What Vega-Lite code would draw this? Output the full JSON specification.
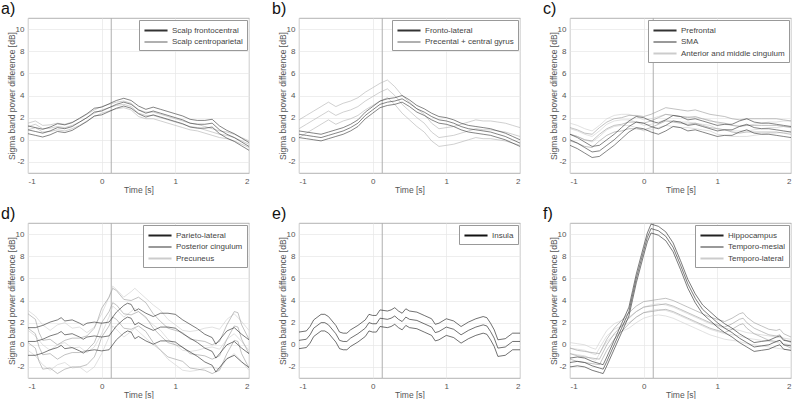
{
"$schema": "https://vega.github.io/schema/vega-lite/v6.json",
"padding": {"left": 0, "top": 0, "right": 0, "bottom": 0},
"bounds": "flush",
"spacing": 50,
"columns": 3,
"resolve": {"scale": {"color": "independent", "strokeWidth": "independent"}, "legend": {"color": "independent"}},
"config": {
 "font": "Liberation Sans",
 "view": {"stroke": "#a0a0a0", "strokeWidth": 0.8},
 "axis": {"labelFontSize": 8, "labelColor": "#555", "titleFontSize": 8.5, "titleColor": "#555", "titleFontWeight": "normal", "gridColor": "#e6e6e6", "gridWidth": 0.7, "domain": false, "ticks": false, "labelOverlap": false, "labelExpr": "'' + datum.value"},
 "axisX": {"labelPadding": 4, "titlePadding": 0},
 "axisY": {"labelPadding": 4, "titleX": -12},
 "legend": {"orient": "top-right", "offset": 2, "strokeColor": "#999", "fillColor": "white", "padding": 4, "labelFontSize": 8, "labelColor": "#444", "symbolType": "M-2.2,0H2.2", "symbolStrokeWidth": 2, "symbolSize": 110, "symbolOffset": 6.5, "rowPadding": 0.5, "labelOffset": 9.5},
 "title": {"fontSize": 16, "fontWeight": "normal", "anchor": "start", "frame": "group", "dx": -27, "offset": 1, "color": "#111"}
},
"datasets": {
 "a": [
  {"s":"Scalp centroparietal","t":-1,"m":1.2,"lo":0.9,"hi":1.5},{"s":"Scalp centroparietal","t":-0.9,"m":1.4,"lo":1.1,"hi":1.7},{"s":"Scalp centroparietal","t":-0.8,"m":1.0,"lo":0.7,"hi":1.3},{"s":"Scalp centroparietal","t":-0.7,"m":1.05,"lo":0.75,"hi":1.35},{"s":"Scalp centroparietal","t":-0.6,"m":1.2,"lo":0.9,"hi":1.5},{"s":"Scalp centroparietal","t":-0.5,"m":1.1,"lo":0.8,"hi":1.4},{"s":"Scalp centroparietal","t":-0.4,"m":1.3,"lo":1.0,"hi":1.6},{"s":"Scalp centroparietal","t":-0.3,"m":1.6,"lo":1.3,"hi":1.9},{"s":"Scalp centroparietal","t":-0.2,"m":2.0,"lo":1.7,"hi":2.3},{"s":"Scalp centroparietal","t":-0.1,"m":2.4,"lo":2.1,"hi":2.7},{"s":"Scalp centroparietal","t":0,"m":2.7,"lo":2.4,"hi":3.0},{"s":"Scalp centroparietal","t":0.1,"m":2.9,"lo":2.6,"hi":3.2},{"s":"Scalp centroparietal","t":0.2,"m":3.1,"lo":2.8,"hi":3.4},{"s":"Scalp centroparietal","t":0.3,"m":3.2,"lo":2.9,"hi":3.5},{"s":"Scalp centroparietal","t":0.4,"m":3.0,"lo":2.7,"hi":3.3},{"s":"Scalp centroparietal","t":0.5,"m":2.4,"lo":2.1,"hi":2.7},{"s":"Scalp centroparietal","t":0.6,"m":2.2,"lo":1.9,"hi":2.5},{"s":"Scalp centroparietal","t":0.7,"m":2.2,"lo":1.9,"hi":2.5},{"s":"Scalp centroparietal","t":0.8,"m":2.0,"lo":1.7,"hi":2.3},{"s":"Scalp centroparietal","t":0.9,"m":1.8,"lo":1.5,"hi":2.1},{"s":"Scalp centroparietal","t":1.0,"m":1.6,"lo":1.3,"hi":1.9},{"s":"Scalp centroparietal","t":1.1,"m":1.4,"lo":1.1,"hi":1.7},{"s":"Scalp centroparietal","t":1.2,"m":1.2,"lo":0.9,"hi":1.5},{"s":"Scalp centroparietal","t":1.3,"m":1.1,"lo":0.8,"hi":1.4},{"s":"Scalp centroparietal","t":1.4,"m":0.9,"lo":0.6,"hi":1.2},{"s":"Scalp centroparietal","t":1.5,"m":0.7,"lo":0.4,"hi":1.0},{"s":"Scalp centroparietal","t":1.6,"m":0.5,"lo":0.2,"hi":0.8},{"s":"Scalp centroparietal","t":1.7,"m":0.4,"lo":0.1,"hi":0.7},{"s":"Scalp centroparietal","t":1.8,"m":0.2,"lo":-0.1,"hi":0.5},{"s":"Scalp centroparietal","t":1.9,"m":-0.1,"lo":-0.4,"hi":0.2},{"s":"Scalp centroparietal","t":2.0,"m":-0.4,"lo":-0.7,"hi":-0.1},
  {"s":"Scalp frontocentral","t":-1,"m":0.9,"lo":0.55,"hi":1.25},{"s":"Scalp frontocentral","t":-0.9,"m":0.75,"lo":0.4,"hi":1.1},{"s":"Scalp frontocentral","t":-0.8,"m":0.6,"lo":0.25,"hi":0.95},{"s":"Scalp frontocentral","t":-0.7,"m":0.8,"lo":0.45,"hi":1.15},{"s":"Scalp frontocentral","t":-0.6,"m":1.1,"lo":0.75,"hi":1.45},{"s":"Scalp frontocentral","t":-0.5,"m":1.0,"lo":0.65,"hi":1.35},{"s":"Scalp frontocentral","t":-0.4,"m":1.2,"lo":0.85,"hi":1.55},{"s":"Scalp frontocentral","t":-0.3,"m":1.6,"lo":1.25,"hi":1.95},{"s":"Scalp frontocentral","t":-0.2,"m":2.0,"lo":1.65,"hi":2.35},{"s":"Scalp frontocentral","t":-0.1,"m":2.5,"lo":2.15,"hi":2.85},{"s":"Scalp frontocentral","t":0,"m":2.6,"lo":2.25,"hi":2.95},{"s":"Scalp frontocentral","t":0.1,"m":2.9,"lo":2.55,"hi":3.25},{"s":"Scalp frontocentral","t":0.2,"m":3.2,"lo":2.85,"hi":3.55},{"s":"Scalp frontocentral","t":0.3,"m":3.4,"lo":3.05,"hi":3.75},{"s":"Scalp frontocentral","t":0.4,"m":3.2,"lo":2.85,"hi":3.55},{"s":"Scalp frontocentral","t":0.5,"m":2.7,"lo":2.35,"hi":3.05},{"s":"Scalp frontocentral","t":0.6,"m":2.4,"lo":2.05,"hi":2.75},{"s":"Scalp frontocentral","t":0.7,"m":2.6,"lo":2.25,"hi":2.95},{"s":"Scalp frontocentral","t":0.8,"m":2.4,"lo":2.05,"hi":2.75},{"s":"Scalp frontocentral","t":0.9,"m":2.2,"lo":1.85,"hi":2.55},{"s":"Scalp frontocentral","t":1.0,"m":2.0,"lo":1.65,"hi":2.35},{"s":"Scalp frontocentral","t":1.1,"m":1.8,"lo":1.45,"hi":2.15},{"s":"Scalp frontocentral","t":1.2,"m":1.5,"lo":1.15,"hi":1.85},{"s":"Scalp frontocentral","t":1.3,"m":1.4,"lo":1.05,"hi":1.75},{"s":"Scalp frontocentral","t":1.4,"m":1.4,"lo":1.05,"hi":1.75},{"s":"Scalp frontocentral","t":1.5,"m":1.5,"lo":1.15,"hi":1.85},{"s":"Scalp frontocentral","t":1.6,"m":0.9,"lo":0.55,"hi":1.25},{"s":"Scalp frontocentral","t":1.7,"m":0.5,"lo":0.15,"hi":0.85},{"s":"Scalp frontocentral","t":1.8,"m":0.2,"lo":-0.15,"hi":0.55},{"s":"Scalp frontocentral","t":1.9,"m":-0.2,"lo":-0.55,"hi":0.15},{"s":"Scalp frontocentral","t":2.0,"m":-0.6,"lo":-0.95,"hi":-0.25}
 ],
 "b": [
  {"s":"Precental + central gyrus","t":-1,"m":1.0,"lo":0.2,"hi":1.8},{"s":"Precental + central gyrus","t":-0.9,"m":1.4,"lo":0.6,"hi":2.2},{"s":"Precental + central gyrus","t":-0.8,"m":1.8,"lo":1.0,"hi":2.6},{"s":"Precental + central gyrus","t":-0.7,"m":2.2,"lo":1.4,"hi":3.0},{"s":"Precental + central gyrus","t":-0.6,"m":2.6,"lo":1.8,"hi":3.4},{"s":"Precental + central gyrus","t":-0.5,"m":2.2,"lo":1.4,"hi":3.0},{"s":"Precental + central gyrus","t":-0.4,"m":2.5,"lo":1.7,"hi":3.3},{"s":"Precental + central gyrus","t":-0.3,"m":2.7,"lo":1.9,"hi":3.5},{"s":"Precental + central gyrus","t":-0.2,"m":3.0,"lo":2.2,"hi":3.8},{"s":"Precental + central gyrus","t":-0.1,"m":3.5,"lo":2.7,"hi":4.3},{"s":"Precental + central gyrus","t":0,"m":3.9,"lo":3.1,"hi":4.7},{"s":"Precental + central gyrus","t":0.1,"m":4.3,"lo":3.5,"hi":5.1},{"s":"Precental + central gyrus","t":0.2,"m":4.6,"lo":3.8,"hi":5.4},{"s":"Precental + central gyrus","t":0.3,"m":4.0,"lo":3.2,"hi":4.8},{"s":"Precental + central gyrus","t":0.4,"m":3.2,"lo":2.4,"hi":4.0},{"s":"Precental + central gyrus","t":0.5,"m":2.6,"lo":1.8,"hi":3.4},{"s":"Precental + central gyrus","t":0.6,"m":2.0,"lo":1.2,"hi":2.8},{"s":"Precental + central gyrus","t":0.7,"m":1.5,"lo":0.7,"hi":2.3},{"s":"Precental + central gyrus","t":0.8,"m":0.7,"lo":-0.1,"hi":1.5},{"s":"Precental + central gyrus","t":0.9,"m":0.2,"lo":-0.6,"hi":1.0},{"s":"Precental + central gyrus","t":1.0,"m":0.3,"lo":-0.5,"hi":1.1},{"s":"Precental + central gyrus","t":1.1,"m":0.4,"lo":-0.4,"hi":1.2},{"s":"Precental + central gyrus","t":1.2,"m":0.6,"lo":-0.2,"hi":1.4},{"s":"Precental + central gyrus","t":1.3,"m":0.8,"lo":0.0,"hi":1.6},{"s":"Precental + central gyrus","t":1.4,"m":1.0,"lo":0.2,"hi":1.8},{"s":"Precental + central gyrus","t":1.5,"m":0.9,"lo":0.1,"hi":1.7},{"s":"Precental + central gyrus","t":1.6,"m":0.9,"lo":0.1,"hi":1.7},{"s":"Precental + central gyrus","t":1.7,"m":0.8,"lo":0.0,"hi":1.6},{"s":"Precental + central gyrus","t":1.8,"m":0.7,"lo":-0.1,"hi":1.5},{"s":"Precental + central gyrus","t":1.9,"m":0.5,"lo":-0.3,"hi":1.3},{"s":"Precental + central gyrus","t":2.0,"m":0.3,"lo":-0.5,"hi":1.1},
  {"s":"Fronto-lateral","t":-1,"m":0.5,"lo":0.2,"hi":0.8},{"s":"Fronto-lateral","t":-0.9,"m":0.4,"lo":0.1,"hi":0.7},{"s":"Fronto-lateral","t":-0.8,"m":0.3,"lo":0.0,"hi":0.6},{"s":"Fronto-lateral","t":-0.7,"m":0.2,"lo":-0.1,"hi":0.5},{"s":"Fronto-lateral","t":-0.6,"m":0.4,"lo":0.1,"hi":0.7},{"s":"Fronto-lateral","t":-0.5,"m":0.6,"lo":0.3,"hi":0.9},{"s":"Fronto-lateral","t":-0.4,"m":0.8,"lo":0.5,"hi":1.1},{"s":"Fronto-lateral","t":-0.3,"m":1.1,"lo":0.8,"hi":1.4},{"s":"Fronto-lateral","t":-0.2,"m":1.5,"lo":1.2,"hi":1.8},{"s":"Fronto-lateral","t":-0.1,"m":2.2,"lo":1.9,"hi":2.5},{"s":"Fronto-lateral","t":0,"m":2.7,"lo":2.4,"hi":3.0},{"s":"Fronto-lateral","t":0.1,"m":3.2,"lo":2.9,"hi":3.5},{"s":"Fronto-lateral","t":0.2,"m":3.4,"lo":3.1,"hi":3.7},{"s":"Fronto-lateral","t":0.3,"m":3.5,"lo":3.2,"hi":3.8},{"s":"Fronto-lateral","t":0.4,"m":3.7,"lo":3.4,"hi":4.0},{"s":"Fronto-lateral","t":0.5,"m":3.3,"lo":3.0,"hi":3.6},{"s":"Fronto-lateral","t":0.6,"m":2.8,"lo":2.5,"hi":3.1},{"s":"Fronto-lateral","t":0.7,"m":2.5,"lo":2.2,"hi":2.8},{"s":"Fronto-lateral","t":0.8,"m":2.1,"lo":1.8,"hi":2.4},{"s":"Fronto-lateral","t":0.9,"m":1.8,"lo":1.5,"hi":2.1},{"s":"Fronto-lateral","t":1.0,"m":1.7,"lo":1.4,"hi":2.0},{"s":"Fronto-lateral","t":1.1,"m":1.5,"lo":1.2,"hi":1.8},{"s":"Fronto-lateral","t":1.2,"m":1.2,"lo":0.9,"hi":1.5},{"s":"Fronto-lateral","t":1.3,"m":1.0,"lo":0.7,"hi":1.3},{"s":"Fronto-lateral","t":1.4,"m":0.9,"lo":0.6,"hi":1.2},{"s":"Fronto-lateral","t":1.5,"m":0.8,"lo":0.5,"hi":1.1},{"s":"Fronto-lateral","t":1.6,"m":0.7,"lo":0.4,"hi":1.0},{"s":"Fronto-lateral","t":1.7,"m":0.5,"lo":0.2,"hi":0.8},{"s":"Fronto-lateral","t":1.8,"m":0.3,"lo":0.0,"hi":0.6},{"s":"Fronto-lateral","t":1.9,"m":0.0,"lo":-0.3,"hi":0.3},{"s":"Fronto-lateral","t":2.0,"m":-0.3,"lo":-0.6,"hi":0.0}
 ],
 "c": [
  {"s":"Anterior and middle cingulum","t":-1,"m":1.0,"lo":0.5,"hi":1.5},{"s":"Anterior and middle cingulum","t":-0.9,"m":0.8,"lo":0.3,"hi":1.3},{"s":"Anterior and middle cingulum","t":-0.8,"m":0.5,"lo":0.0,"hi":1.0},{"s":"Anterior and middle cingulum","t":-0.7,"m":0.3,"lo":-0.2,"hi":0.8},{"s":"Anterior and middle cingulum","t":-0.6,"m":0.8,"lo":0.3,"hi":1.3},{"s":"Anterior and middle cingulum","t":-0.5,"m":1.4,"lo":0.9,"hi":1.9},{"s":"Anterior and middle cingulum","t":-0.4,"m":1.7,"lo":1.2,"hi":2.2},{"s":"Anterior and middle cingulum","t":-0.3,"m":1.8,"lo":1.3,"hi":2.3},{"s":"Anterior and middle cingulum","t":-0.2,"m":1.8,"lo":1.3,"hi":2.3},{"s":"Anterior and middle cingulum","t":-0.1,"m":1.6,"lo":1.1,"hi":2.1},{"s":"Anterior and middle cingulum","t":0,"m":1.3,"lo":0.8,"hi":1.8},{"s":"Anterior and middle cingulum","t":0.1,"m":1.4,"lo":0.9,"hi":1.9},{"s":"Anterior and middle cingulum","t":0.2,"m":1.6,"lo":1.1,"hi":2.1},{"s":"Anterior and middle cingulum","t":0.3,"m":1.8,"lo":1.3,"hi":2.3},{"s":"Anterior and middle cingulum","t":0.4,"m":1.7,"lo":1.2,"hi":2.2},{"s":"Anterior and middle cingulum","t":0.5,"m":1.6,"lo":1.1,"hi":2.1},{"s":"Anterior and middle cingulum","t":0.6,"m":1.6,"lo":1.1,"hi":2.1},{"s":"Anterior and middle cingulum","t":0.7,"m":1.5,"lo":1.0,"hi":2.0},{"s":"Anterior and middle cingulum","t":0.8,"m":1.4,"lo":0.9,"hi":1.9},{"s":"Anterior and middle cingulum","t":0.9,"m":1.3,"lo":0.8,"hi":1.8},{"s":"Anterior and middle cingulum","t":1.0,"m":1.0,"lo":0.5,"hi":1.5},{"s":"Anterior and middle cingulum","t":1.1,"m":0.9,"lo":0.4,"hi":1.4},{"s":"Anterior and middle cingulum","t":1.2,"m":0.8,"lo":0.3,"hi":1.3},{"s":"Anterior and middle cingulum","t":1.3,"m":0.8,"lo":0.3,"hi":1.3},{"s":"Anterior and middle cingulum","t":1.4,"m":0.8,"lo":0.3,"hi":1.3},{"s":"Anterior and middle cingulum","t":1.5,"m":0.9,"lo":0.4,"hi":1.4},{"s":"Anterior and middle cingulum","t":1.6,"m":1.0,"lo":0.5,"hi":1.5},{"s":"Anterior and middle cingulum","t":1.7,"m":1.1,"lo":0.6,"hi":1.6},{"s":"Anterior and middle cingulum","t":1.8,"m":1.1,"lo":0.6,"hi":1.6},{"s":"Anterior and middle cingulum","t":1.9,"m":1.2,"lo":0.7,"hi":1.7},{"s":"Anterior and middle cingulum","t":2.0,"m":1.2,"lo":0.7,"hi":1.7},
  {"s":"SMA","t":-1,"m":0.5,"lo":-0.1,"hi":1.1},{"s":"SMA","t":-0.9,"m":0.3,"lo":-0.3,"hi":0.9},{"s":"SMA","t":-0.8,"m":0.0,"lo":-0.6,"hi":0.6},{"s":"SMA","t":-0.7,"m":-0.1,"lo":-0.7,"hi":0.5},{"s":"SMA","t":-0.6,"m":0.5,"lo":-0.1,"hi":1.1},{"s":"SMA","t":-0.5,"m":1.0,"lo":0.4,"hi":1.6},{"s":"SMA","t":-0.4,"m":1.3,"lo":0.7,"hi":1.9},{"s":"SMA","t":-0.3,"m":1.4,"lo":0.8,"hi":2.0},{"s":"SMA","t":-0.2,"m":1.6,"lo":1.0,"hi":2.2},{"s":"SMA","t":-0.1,"m":1.6,"lo":1.0,"hi":2.2},{"s":"SMA","t":0,"m":1.5,"lo":0.9,"hi":2.1},{"s":"SMA","t":0.1,"m":1.7,"lo":1.1,"hi":2.3},{"s":"SMA","t":0.2,"m":2.0,"lo":1.4,"hi":2.6},{"s":"SMA","t":0.3,"m":2.3,"lo":1.7,"hi":2.9},{"s":"SMA","t":0.4,"m":2.2,"lo":1.6,"hi":2.8},{"s":"SMA","t":0.5,"m":2.1,"lo":1.5,"hi":2.7},{"s":"SMA","t":0.6,"m":2.0,"lo":1.4,"hi":2.6},{"s":"SMA","t":0.7,"m":2.1,"lo":1.5,"hi":2.7},{"s":"SMA","t":0.8,"m":1.9,"lo":1.3,"hi":2.5},{"s":"SMA","t":0.9,"m":1.7,"lo":1.1,"hi":2.3},{"s":"SMA","t":1.0,"m":1.6,"lo":1.0,"hi":2.2},{"s":"SMA","t":1.1,"m":1.5,"lo":0.9,"hi":2.1},{"s":"SMA","t":1.2,"m":1.3,"lo":0.7,"hi":1.9},{"s":"SMA","t":1.3,"m":1.2,"lo":0.6,"hi":1.8},{"s":"SMA","t":1.4,"m":1.3,"lo":0.7,"hi":1.9},{"s":"SMA","t":1.5,"m":1.3,"lo":0.7,"hi":1.9},{"s":"SMA","t":1.6,"m":1.3,"lo":0.7,"hi":1.9},{"s":"SMA","t":1.7,"m":1.3,"lo":0.7,"hi":1.9},{"s":"SMA","t":1.8,"m":1.3,"lo":0.7,"hi":1.9},{"s":"SMA","t":1.9,"m":1.2,"lo":0.6,"hi":1.8},{"s":"SMA","t":2.0,"m":1.1,"lo":0.5,"hi":1.7},
  {"s":"Prefrontal","t":-1,"m":0.0,"lo":-0.5,"hi":0.5},{"s":"Prefrontal","t":-0.9,"m":-0.3,"lo":-0.8,"hi":0.2},{"s":"Prefrontal","t":-0.8,"m":-0.7,"lo":-1.2,"hi":-0.2},{"s":"Prefrontal","t":-0.7,"m":-1.1,"lo":-1.6,"hi":-0.6},{"s":"Prefrontal","t":-0.6,"m":-1.0,"lo":-1.5,"hi":-0.5},{"s":"Prefrontal","t":-0.5,"m":-0.5,"lo":-1.0,"hi":0.0},{"s":"Prefrontal","t":-0.4,"m":0.0,"lo":-0.5,"hi":0.5},{"s":"Prefrontal","t":-0.3,"m":0.6,"lo":0.1,"hi":1.1},{"s":"Prefrontal","t":-0.2,"m":1.2,"lo":0.7,"hi":1.7},{"s":"Prefrontal","t":-0.1,"m":1.6,"lo":1.1,"hi":2.1},{"s":"Prefrontal","t":0,"m":1.5,"lo":1.0,"hi":2.0},{"s":"Prefrontal","t":0.1,"m":1.2,"lo":0.7,"hi":1.7},{"s":"Prefrontal","t":0.2,"m":1.0,"lo":0.5,"hi":1.5},{"s":"Prefrontal","t":0.3,"m":1.3,"lo":0.8,"hi":1.8},{"s":"Prefrontal","t":0.4,"m":1.7,"lo":1.2,"hi":2.2},{"s":"Prefrontal","t":0.5,"m":1.6,"lo":1.1,"hi":2.1},{"s":"Prefrontal","t":0.6,"m":1.3,"lo":0.8,"hi":1.8},{"s":"Prefrontal","t":0.7,"m":1.4,"lo":0.9,"hi":1.9},{"s":"Prefrontal","t":0.8,"m":1.2,"lo":0.7,"hi":1.7},{"s":"Prefrontal","t":0.9,"m":1.0,"lo":0.5,"hi":1.5},{"s":"Prefrontal","t":1.0,"m":0.8,"lo":0.3,"hi":1.3},{"s":"Prefrontal","t":1.1,"m":0.9,"lo":0.4,"hi":1.4},{"s":"Prefrontal","t":1.2,"m":0.9,"lo":0.4,"hi":1.4},{"s":"Prefrontal","t":1.3,"m":1.2,"lo":0.7,"hi":1.7},{"s":"Prefrontal","t":1.4,"m":1.4,"lo":0.9,"hi":1.9},{"s":"Prefrontal","t":1.5,"m":1.1,"lo":0.6,"hi":1.6},{"s":"Prefrontal","t":1.6,"m":1.0,"lo":0.5,"hi":1.5},{"s":"Prefrontal","t":1.7,"m":1.0,"lo":0.5,"hi":1.5},{"s":"Prefrontal","t":1.8,"m":0.9,"lo":0.4,"hi":1.4},{"s":"Prefrontal","t":1.9,"m":0.8,"lo":0.3,"hi":1.3},{"s":"Prefrontal","t":2.0,"m":0.7,"lo":0.2,"hi":1.2}
 ],
 "d": [
  {"s":"Precuneus","t":-1,"m":1.3,"lo":-0.5,"hi":3.1},{"s":"Precuneus","t":-0.9,"m":0.8,"lo":-1.0,"hi":2.6},{"s":"Precuneus","t":-0.8,"m":0.0,"lo":-1.8,"hi":1.8},{"s":"Precuneus","t":-0.7,"m":-0.5,"lo":-2.3,"hi":1.3},{"s":"Precuneus","t":-0.6,"m":0.0,"lo":-1.8,"hi":1.8},{"s":"Precuneus","t":-0.5,"m":0.2,"lo":-1.6,"hi":2.0},{"s":"Precuneus","t":-0.4,"m":-0.3,"lo":-2.1,"hi":1.5},{"s":"Precuneus","t":-0.3,"m":-0.2,"lo":-2.0,"hi":1.6},{"s":"Precuneus","t":-0.2,"m":-0.7,"lo":-2.5,"hi":1.1},{"s":"Precuneus","t":-0.1,"m":-0.2,"lo":-2.0,"hi":1.6},{"s":"Precuneus","t":0,"m":1.0,"lo":-0.8,"hi":2.8},{"s":"Precuneus","t":0.1,"m":2.5,"lo":0.7,"hi":4.3},{"s":"Precuneus","t":0.15,"m":3.5,"lo":1.7,"hi":5.3},{"s":"Precuneus","t":0.2,"m":3.2,"lo":1.4,"hi":5.0},{"s":"Precuneus","t":0.3,"m":2.5,"lo":0.7,"hi":4.3},{"s":"Precuneus","t":0.4,"m":3.0,"lo":1.2,"hi":4.8},{"s":"Precuneus","t":0.45,"m":3.3,"lo":1.5,"hi":5.1},{"s":"Precuneus","t":0.5,"m":3.0,"lo":1.2,"hi":4.8},{"s":"Precuneus","t":0.6,"m":2.4,"lo":0.6,"hi":4.2},{"s":"Precuneus","t":0.7,"m":1.8,"lo":0.0,"hi":3.6},{"s":"Precuneus","t":0.8,"m":1.3,"lo":-0.5,"hi":3.1},{"s":"Precuneus","t":0.9,"m":0.5,"lo":-1.3,"hi":2.3},{"s":"Precuneus","t":1.0,"m":0.0,"lo":-1.8,"hi":1.8},{"s":"Precuneus","t":1.1,"m":-0.5,"lo":-2.3,"hi":1.3},{"s":"Precuneus","t":1.2,"m":-0.6,"lo":-2.4,"hi":1.2},{"s":"Precuneus","t":1.3,"m":-0.5,"lo":-2.3,"hi":1.3},{"s":"Precuneus","t":1.4,"m":-0.3,"lo":-2.1,"hi":1.5},{"s":"Precuneus","t":1.5,"m":-0.2,"lo":-2.0,"hi":1.6},{"s":"Precuneus","t":1.6,"m":-0.4,"lo":-2.2,"hi":1.4},{"s":"Precuneus","t":1.7,"m":0.5,"lo":-1.3,"hi":2.3},{"s":"Precuneus","t":1.8,"m":1.0,"lo":-0.8,"hi":2.8},{"s":"Precuneus","t":1.9,"m":0.3,"lo":-1.5,"hi":2.1},{"s":"Precuneus","t":2.0,"m":-0.5,"lo":-2.3,"hi":1.3},
  {"s":"Posterior cingulum","t":-1,"m":1.5,"lo":0.2,"hi":2.8},{"s":"Posterior cingulum","t":-0.9,"m":1.0,"lo":-0.3,"hi":2.3},{"s":"Posterior cingulum","t":-0.85,"m":-0.2,"lo":-1.5,"hi":1.1},{"s":"Posterior cingulum","t":-0.8,"m":-0.9,"lo":-2.2,"hi":0.4},{"s":"Posterior cingulum","t":-0.7,"m":-0.8,"lo":-2.1,"hi":0.5},{"s":"Posterior cingulum","t":-0.6,"m":-1.3,"lo":-2.6,"hi":0.0},{"s":"Posterior cingulum","t":-0.5,"m":-0.9,"lo":-2.2,"hi":0.4},{"s":"Posterior cingulum","t":-0.4,"m":-0.7,"lo":-2.0,"hi":0.6},{"s":"Posterior cingulum","t":-0.3,"m":-0.7,"lo":-2.0,"hi":0.6},{"s":"Posterior cingulum","t":-0.2,"m":-0.5,"lo":-1.8,"hi":0.8},{"s":"Posterior cingulum","t":-0.1,"m":0.2,"lo":-1.1,"hi":1.5},{"s":"Posterior cingulum","t":-0.05,"m":1.0,"lo":-0.3,"hi":2.3},{"s":"Posterior cingulum","t":0,"m":2.0,"lo":0.7,"hi":3.3},{"s":"Posterior cingulum","t":0.1,"m":3.0,"lo":1.7,"hi":4.3},{"s":"Posterior cingulum","t":0.15,"m":3.8,"lo":2.5,"hi":5.1},{"s":"Posterior cingulum","t":0.2,"m":3.6,"lo":2.3,"hi":4.9},{"s":"Posterior cingulum","t":0.3,"m":2.8,"lo":1.5,"hi":4.1},{"s":"Posterior cingulum","t":0.4,"m":2.7,"lo":1.4,"hi":4.0},{"s":"Posterior cingulum","t":0.5,"m":3.0,"lo":1.7,"hi":4.3},{"s":"Posterior cingulum","t":0.6,"m":2.5,"lo":1.2,"hi":3.8},{"s":"Posterior cingulum","t":0.7,"m":1.5,"lo":0.2,"hi":2.8},{"s":"Posterior cingulum","t":0.8,"m":0.8,"lo":-0.5,"hi":2.1},{"s":"Posterior cingulum","t":0.9,"m":0.2,"lo":-1.1,"hi":1.5},{"s":"Posterior cingulum","t":1.0,"m":0.0,"lo":-1.3,"hi":1.3},{"s":"Posterior cingulum","t":1.1,"m":-0.2,"lo":-1.5,"hi":1.1},{"s":"Posterior cingulum","t":1.2,"m":-0.8,"lo":-2.1,"hi":0.5},{"s":"Posterior cingulum","t":1.3,"m":-0.9,"lo":-2.2,"hi":0.4},{"s":"Posterior cingulum","t":1.4,"m":-1.0,"lo":-2.3,"hi":0.3},{"s":"Posterior cingulum","t":1.5,"m":-1.3,"lo":-2.6,"hi":0.0},{"s":"Posterior cingulum","t":1.6,"m":-1.0,"lo":-2.3,"hi":0.3},{"s":"Posterior cingulum","t":1.7,"m":0.5,"lo":-0.8,"hi":1.8},{"s":"Posterior cingulum","t":1.8,"m":1.7,"lo":0.4,"hi":3.0},{"s":"Posterior cingulum","t":1.85,"m":1.6,"lo":0.3,"hi":2.9},{"s":"Posterior cingulum","t":1.9,"m":0.5,"lo":-0.8,"hi":1.8},{"s":"Posterior cingulum","t":2.0,"m":-0.8,"lo":-2.1,"hi":0.5},
  {"s":"Parieto-lateral","t":-1,"m":0.3,"lo":-0.95,"hi":1.55},{"s":"Parieto-lateral","t":-0.9,"m":0.3,"lo":-0.95,"hi":1.55},{"s":"Parieto-lateral","t":-0.8,"m":0.5,"lo":-0.75,"hi":1.75},{"s":"Parieto-lateral","t":-0.7,"m":0.8,"lo":-0.45,"hi":2.05},{"s":"Parieto-lateral","t":-0.6,"m":1.0,"lo":-0.25,"hi":2.25},{"s":"Parieto-lateral","t":-0.55,"m":1.2,"lo":-0.05,"hi":2.45},{"s":"Parieto-lateral","t":-0.5,"m":0.9,"lo":-0.35,"hi":2.15},{"s":"Parieto-lateral","t":-0.4,"m":1.0,"lo":-0.25,"hi":2.25},{"s":"Parieto-lateral","t":-0.3,"m":0.7,"lo":-0.55,"hi":1.95},{"s":"Parieto-lateral","t":-0.25,"m":0.5,"lo":-0.75,"hi":1.75},{"s":"Parieto-lateral","t":-0.2,"m":0.7,"lo":-0.55,"hi":1.95},{"s":"Parieto-lateral","t":-0.1,"m":0.8,"lo":-0.45,"hi":2.05},{"s":"Parieto-lateral","t":0,"m":0.7,"lo":-0.55,"hi":1.95},{"s":"Parieto-lateral","t":0.1,"m":0.8,"lo":-0.45,"hi":2.05},{"s":"Parieto-lateral","t":0.2,"m":1.7,"lo":0.45,"hi":2.95},{"s":"Parieto-lateral","t":0.3,"m":2.3,"lo":1.05,"hi":3.55},{"s":"Parieto-lateral","t":0.35,"m":2.5,"lo":1.25,"hi":3.75},{"s":"Parieto-lateral","t":0.4,"m":2.4,"lo":1.15,"hi":3.65},{"s":"Parieto-lateral","t":0.45,"m":1.8,"lo":0.55,"hi":3.05},{"s":"Parieto-lateral","t":0.5,"m":2.0,"lo":0.75,"hi":3.25},{"s":"Parieto-lateral","t":0.6,"m":1.6,"lo":0.35,"hi":2.85},{"s":"Parieto-lateral","t":0.7,"m":1.3,"lo":0.05,"hi":2.55},{"s":"Parieto-lateral","t":0.8,"m":1.6,"lo":0.35,"hi":2.85},{"s":"Parieto-lateral","t":0.9,"m":1.6,"lo":0.35,"hi":2.85},{"s":"Parieto-lateral","t":1.0,"m":1.5,"lo":0.25,"hi":2.75},{"s":"Parieto-lateral","t":1.1,"m":1.0,"lo":-0.25,"hi":2.25},{"s":"Parieto-lateral","t":1.2,"m":0.6,"lo":-0.65,"hi":1.85},{"s":"Parieto-lateral","t":1.3,"m":0.2,"lo":-1.05,"hi":1.45},{"s":"Parieto-lateral","t":1.4,"m":-0.3,"lo":-1.55,"hi":0.95},{"s":"Parieto-lateral","t":1.5,"m":-0.6,"lo":-1.85,"hi":0.65},{"s":"Parieto-lateral","t":1.55,"m":-1.2,"lo":-2.45,"hi":0.05},{"s":"Parieto-lateral","t":1.6,"m":-0.8,"lo":-2.05,"hi":0.45},{"s":"Parieto-lateral","t":1.7,"m":0.0,"lo":-1.25,"hi":1.25},{"s":"Parieto-lateral","t":1.8,"m":0.3,"lo":-0.95,"hi":1.55},{"s":"Parieto-lateral","t":1.9,"m":-0.3,"lo":-1.55,"hi":0.95},{"s":"Parieto-lateral","t":2.0,"m":-0.8,"lo":-2.05,"hi":0.45}
 ],
 "e": [
  {"s":"Insula","t":-1,"m":0.4,"lo":-0.35,"hi":1.15},{"s":"Insula","t":-0.9,"m":0.5,"lo":-0.25,"hi":1.25},{"s":"Insula","t":-0.85,"m":0.9,"lo":0.15,"hi":1.65},{"s":"Insula","t":-0.8,"m":1.5,"lo":0.75,"hi":2.25},{"s":"Insula","t":-0.7,"m":2.0,"lo":1.25,"hi":2.75},{"s":"Insula","t":-0.65,"m":2.0,"lo":1.25,"hi":2.75},{"s":"Insula","t":-0.6,"m":1.8,"lo":1.05,"hi":2.55},{"s":"Insula","t":-0.5,"m":1.0,"lo":0.25,"hi":1.75},{"s":"Insula","t":-0.45,"m":0.4,"lo":-0.35,"hi":1.15},{"s":"Insula","t":-0.4,"m":0.3,"lo":-0.45,"hi":1.05},{"s":"Insula","t":-0.35,"m":0.3,"lo":-0.45,"hi":1.05},{"s":"Insula","t":-0.3,"m":0.6,"lo":-0.15,"hi":1.35},{"s":"Insula","t":-0.2,"m":1.0,"lo":0.25,"hi":1.75},{"s":"Insula","t":-0.1,"m":1.5,"lo":0.75,"hi":2.25},{"s":"Insula","t":-0.05,"m":2.0,"lo":1.25,"hi":2.75},{"s":"Insula","t":0,"m":1.9,"lo":1.15,"hi":2.65},{"s":"Insula","t":0.05,"m":1.9,"lo":1.15,"hi":2.65},{"s":"Insula","t":0.1,"m":2.4,"lo":1.65,"hi":3.15},{"s":"Insula","t":0.2,"m":2.3,"lo":1.55,"hi":3.05},{"s":"Insula","t":0.25,"m":2.4,"lo":1.65,"hi":3.15},{"s":"Insula","t":0.3,"m":2.6,"lo":1.85,"hi":3.35},{"s":"Insula","t":0.35,"m":2.3,"lo":1.55,"hi":3.05},{"s":"Insula","t":0.4,"m":2.1,"lo":1.35,"hi":2.85},{"s":"Insula","t":0.45,"m":2.5,"lo":1.75,"hi":3.25},{"s":"Insula","t":0.5,"m":2.3,"lo":1.55,"hi":3.05},{"s":"Insula","t":0.6,"m":2.2,"lo":1.45,"hi":2.95},{"s":"Insula","t":0.7,"m":1.9,"lo":1.15,"hi":2.65},{"s":"Insula","t":0.8,"m":1.6,"lo":0.85,"hi":2.35},{"s":"Insula","t":0.85,"m":1.1,"lo":0.35,"hi":1.85},{"s":"Insula","t":0.9,"m":1.2,"lo":0.45,"hi":1.95},{"s":"Insula","t":1.0,"m":1.6,"lo":0.85,"hi":2.35},{"s":"Insula","t":1.1,"m":1.4,"lo":0.65,"hi":2.15},{"s":"Insula","t":1.2,"m":0.9,"lo":0.15,"hi":1.65},{"s":"Insula","t":1.3,"m":1.3,"lo":0.55,"hi":2.05},{"s":"Insula","t":1.4,"m":1.6,"lo":0.85,"hi":2.35},{"s":"Insula","t":1.5,"m":1.8,"lo":1.05,"hi":2.55},{"s":"Insula","t":1.55,"m":1.7,"lo":0.95,"hi":2.45},{"s":"Insula","t":1.6,"m":1.2,"lo":0.45,"hi":1.95},{"s":"Insula","t":1.65,"m":0.6,"lo":-0.15,"hi":1.35},{"s":"Insula","t":1.7,"m":-0.3,"lo":-1.05,"hi":0.45},{"s":"Insula","t":1.8,"m":-0.2,"lo":-0.95,"hi":0.55},{"s":"Insula","t":1.9,"m":0.3,"lo":-0.45,"hi":1.05},{"s":"Insula","t":2.0,"m":0.3,"lo":-0.45,"hi":1.05}
 ],
 "f": [
  {"s":"Temporo-lateral","t":-1,"m":-0.3,"lo":-0.8,"hi":0.2},{"s":"Temporo-lateral","t":-0.9,"m":-0.4,"lo":-0.9,"hi":0.1},{"s":"Temporo-lateral","t":-0.8,"m":-0.5,"lo":-1.0,"hi":0.0},{"s":"Temporo-lateral","t":-0.7,"m":-0.8,"lo":-1.3,"hi":-0.3},{"s":"Temporo-lateral","t":-0.65,"m":-0.9,"lo":-1.4,"hi":-0.4},{"s":"Temporo-lateral","t":-0.6,"m":-0.3,"lo":-0.8,"hi":0.2},{"s":"Temporo-lateral","t":-0.5,"m":0.8,"lo":0.3,"hi":1.3},{"s":"Temporo-lateral","t":-0.4,"m":1.4,"lo":0.9,"hi":1.9},{"s":"Temporo-lateral","t":-0.3,"m":1.7,"lo":1.2,"hi":2.2},{"s":"Temporo-lateral","t":-0.2,"m":2.0,"lo":1.5,"hi":2.5},{"s":"Temporo-lateral","t":-0.1,"m":2.5,"lo":2.0,"hi":3.0},{"s":"Temporo-lateral","t":0,"m":2.9,"lo":2.4,"hi":3.4},{"s":"Temporo-lateral","t":0.1,"m":3.1,"lo":2.6,"hi":3.6},{"s":"Temporo-lateral","t":0.2,"m":3.2,"lo":2.7,"hi":3.7},{"s":"Temporo-lateral","t":0.3,"m":3.1,"lo":2.6,"hi":3.6},{"s":"Temporo-lateral","t":0.4,"m":2.9,"lo":2.4,"hi":3.4},{"s":"Temporo-lateral","t":0.5,"m":2.6,"lo":2.1,"hi":3.1},{"s":"Temporo-lateral","t":0.6,"m":2.3,"lo":1.8,"hi":2.8},{"s":"Temporo-lateral","t":0.7,"m":2.0,"lo":1.5,"hi":2.5},{"s":"Temporo-lateral","t":0.8,"m":1.7,"lo":1.2,"hi":2.2},{"s":"Temporo-lateral","t":0.9,"m":1.4,"lo":0.9,"hi":1.9},{"s":"Temporo-lateral","t":1.0,"m":1.2,"lo":0.7,"hi":1.7},{"s":"Temporo-lateral","t":1.1,"m":1.0,"lo":0.5,"hi":1.5},{"s":"Temporo-lateral","t":1.2,"m":0.9,"lo":0.4,"hi":1.4},{"s":"Temporo-lateral","t":1.3,"m":0.8,"lo":0.3,"hi":1.3},{"s":"Temporo-lateral","t":1.4,"m":0.6,"lo":0.1,"hi":1.1},{"s":"Temporo-lateral","t":1.5,"m":0.5,"lo":0.0,"hi":1.0},{"s":"Temporo-lateral","t":1.6,"m":0.4,"lo":-0.1,"hi":0.9},{"s":"Temporo-lateral","t":1.7,"m":0.3,"lo":-0.2,"hi":0.8},{"s":"Temporo-lateral","t":1.8,"m":0.2,"lo":-0.3,"hi":0.7},{"s":"Temporo-lateral","t":1.9,"m":0.1,"lo":-0.4,"hi":0.6},{"s":"Temporo-lateral","t":2.0,"m":0.0,"lo":-0.5,"hi":0.5},
  {"s":"Temporo-mesial","t":-1,"m":-0.8,"lo":-1.3,"hi":-0.3},{"s":"Temporo-mesial","t":-0.9,"m":-1.0,"lo":-1.5,"hi":-0.5},{"s":"Temporo-mesial","t":-0.8,"m":-1.1,"lo":-1.6,"hi":-0.6},{"s":"Temporo-mesial","t":-0.7,"m":-1.2,"lo":-1.7,"hi":-0.7},{"s":"Temporo-mesial","t":-0.6,"m":-1.3,"lo":-1.8,"hi":-0.8},{"s":"Temporo-mesial","t":-0.5,"m":0.0,"lo":-0.5,"hi":0.5},{"s":"Temporo-mesial","t":-0.4,"m":1.0,"lo":0.5,"hi":1.5},{"s":"Temporo-mesial","t":-0.3,"m":1.7,"lo":1.2,"hi":2.2},{"s":"Temporo-mesial","t":-0.2,"m":2.4,"lo":1.9,"hi":2.9},{"s":"Temporo-mesial","t":-0.1,"m":3.0,"lo":2.5,"hi":3.5},{"s":"Temporo-mesial","t":0,"m":3.4,"lo":2.9,"hi":3.9},{"s":"Temporo-mesial","t":0.1,"m":3.5,"lo":3.0,"hi":4.0},{"s":"Temporo-mesial","t":0.2,"m":3.6,"lo":3.1,"hi":4.1},{"s":"Temporo-mesial","t":0.3,"m":3.7,"lo":3.2,"hi":4.2},{"s":"Temporo-mesial","t":0.4,"m":3.5,"lo":3.0,"hi":4.0},{"s":"Temporo-mesial","t":0.5,"m":3.2,"lo":2.7,"hi":3.7},{"s":"Temporo-mesial","t":0.6,"m":2.9,"lo":2.4,"hi":3.4},{"s":"Temporo-mesial","t":0.7,"m":2.6,"lo":2.1,"hi":3.1},{"s":"Temporo-mesial","t":0.8,"m":2.3,"lo":1.8,"hi":2.8},{"s":"Temporo-mesial","t":0.9,"m":2.0,"lo":1.5,"hi":2.5},{"s":"Temporo-mesial","t":1.0,"m":1.8,"lo":1.3,"hi":2.3},{"s":"Temporo-mesial","t":1.1,"m":1.6,"lo":1.1,"hi":2.1},{"s":"Temporo-mesial","t":1.2,"m":1.9,"lo":1.4,"hi":2.4},{"s":"Temporo-mesial","t":1.3,"m":2.3,"lo":1.8,"hi":2.8},{"s":"Temporo-mesial","t":1.35,"m":2.4,"lo":1.9,"hi":2.9},{"s":"Temporo-mesial","t":1.4,"m":2.0,"lo":1.5,"hi":2.5},{"s":"Temporo-mesial","t":1.5,"m":1.5,"lo":1.0,"hi":2.0},{"s":"Temporo-mesial","t":1.6,"m":1.2,"lo":0.7,"hi":1.7},{"s":"Temporo-mesial","t":1.7,"m":0.9,"lo":0.4,"hi":1.4},{"s":"Temporo-mesial","t":1.8,"m":0.8,"lo":0.3,"hi":1.3},{"s":"Temporo-mesial","t":1.85,"m":0.9,"lo":0.4,"hi":1.4},{"s":"Temporo-mesial","t":1.9,"m":0.5,"lo":0.0,"hi":1.0},{"s":"Temporo-mesial","t":2.0,"m":0.2,"lo":-0.3,"hi":0.7},
  {"s":"Hippocampus","t":-1,"m":-1.6,"lo":-2.0,"hi":-1.2},{"s":"Hippocampus","t":-0.9,"m":-1.5,"lo":-1.9,"hi":-1.1},{"s":"Hippocampus","t":-0.8,"m":-1.6,"lo":-2.0,"hi":-1.2},{"s":"Hippocampus","t":-0.7,"m":-1.9,"lo":-2.3,"hi":-1.5},{"s":"Hippocampus","t":-0.6,"m":-2.1,"lo":-2.5,"hi":-1.7},{"s":"Hippocampus","t":-0.55,"m":-2.2,"lo":-2.6,"hi":-1.8},{"s":"Hippocampus","t":-0.5,"m":-1.5,"lo":-1.9,"hi":-1.1},{"s":"Hippocampus","t":-0.4,"m":0.0,"lo":-0.4,"hi":0.4},{"s":"Hippocampus","t":-0.3,"m":1.5,"lo":1.1,"hi":1.9},{"s":"Hippocampus","t":-0.2,"m":3.0,"lo":2.6,"hi":3.4},{"s":"Hippocampus","t":-0.15,"m":4.5,"lo":4.1,"hi":4.9},{"s":"Hippocampus","t":-0.1,"m":6.0,"lo":5.6,"hi":6.4},{"s":"Hippocampus","t":0,"m":8.5,"lo":8.1,"hi":8.9},{"s":"Hippocampus","t":0.05,"m":9.7,"lo":9.3,"hi":10.1},{"s":"Hippocampus","t":0.1,"m":10.5,"lo":10.1,"hi":10.9},{"s":"Hippocampus","t":0.2,"m":10.3,"lo":9.9,"hi":10.7},{"s":"Hippocampus","t":0.3,"m":9.8,"lo":9.4,"hi":10.2},{"s":"Hippocampus","t":0.4,"m":8.8,"lo":8.4,"hi":9.2},{"s":"Hippocampus","t":0.5,"m":7.2,"lo":6.8,"hi":7.6},{"s":"Hippocampus","t":0.6,"m":5.5,"lo":5.1,"hi":5.9},{"s":"Hippocampus","t":0.7,"m":4.2,"lo":3.8,"hi":4.6},{"s":"Hippocampus","t":0.8,"m":3.2,"lo":2.8,"hi":3.6},{"s":"Hippocampus","t":0.9,"m":2.6,"lo":2.2,"hi":3.0},{"s":"Hippocampus","t":1.0,"m":2.0,"lo":1.6,"hi":2.4},{"s":"Hippocampus","t":1.1,"m":1.5,"lo":1.1,"hi":1.9},{"s":"Hippocampus","t":1.2,"m":1.1,"lo":0.7,"hi":1.5},{"s":"Hippocampus","t":1.3,"m":0.6,"lo":0.2,"hi":1.0},{"s":"Hippocampus","t":1.4,"m":0.2,"lo":-0.2,"hi":0.6},{"s":"Hippocampus","t":1.5,"m":-0.2,"lo":-0.6,"hi":0.2},{"s":"Hippocampus","t":1.6,"m":-0.1,"lo":-0.5,"hi":0.3},{"s":"Hippocampus","t":1.7,"m":0.0,"lo":-0.4,"hi":0.4},{"s":"Hippocampus","t":1.8,"m":0.3,"lo":-0.1,"hi":0.7},{"s":"Hippocampus","t":1.85,"m":0.4,"lo":0.0,"hi":0.8},{"s":"Hippocampus","t":1.9,"m":0.0,"lo":-0.4,"hi":0.4},{"s":"Hippocampus","t":2.0,"m":-0.1,"lo":-0.5,"hi":0.3}
 ]
},
"concat": [
  {"title": "a)", "width": 221, "height": 155, "layer": [
   {"data": {"values": [{"t": 0.13}]}, "mark": {"type": "rule", "color": "#b0b0b0", "strokeWidth": 1}, "encoding": {"x": {"field": "t", "type": "quantitative", "scale": {"domain": [-1, 2], "nice": false}}}},
   {"data": {"name": "a"}, "transform": [{"fold": ["lo", "hi", "m"], "as": ["k", "v"]}], "mark": {"type": "line", "clip": true},
    "encoding": {"x": {"field": "t", "type": "quantitative", "scale": {"domain": [-1, 2], "nice": false}, "axis": {"values": [-1, -0.5, 0, 0.5, 1, 1.5, 2], "title": "Time [s]"}},
     "y": {"field": "v", "type": "quantitative", "scale": {"domain": [-3, 11], "nice": false}, "axis": {"values": [-2, 0, 2, 4, 6, 8, 10], "title": "Sigma band power difference [dB]"}},
     "color": {"field": "s", "type": "nominal", "scale": {"domain": ["Scalp frontocentral", "Scalp centroparietal"], "range": ["#333333", "#b0b0b0"]}, "legend": {"title": null}},
     "detail": {"field": "k"},
     "strokeWidth": {"field": "k", "type": "nominal", "scale": {"domain": ["lo", "hi", "m"], "range": [0.6, 0.6, 1.6]}, "legend": null}}}
  ]},
  {"title": "b)", "width": 221, "height": 155, "layer": [
   {"data": {"values": [{"t": 0.13}]}, "mark": {"type": "rule", "color": "#b0b0b0", "strokeWidth": 1}, "encoding": {"x": {"field": "t", "type": "quantitative", "scale": {"domain": [-1, 2], "nice": false}}}},
   {"data": {"name": "b"}, "transform": [{"fold": ["lo", "hi", "m"], "as": ["k", "v"]}], "mark": {"type": "line", "clip": true},
    "encoding": {"x": {"field": "t", "type": "quantitative", "scale": {"domain": [-1, 2], "nice": false}, "axis": {"values": [-1, -0.5, 0, 0.5, 1, 1.5, 2], "title": "Time [s]"}},
     "y": {"field": "v", "type": "quantitative", "scale": {"domain": [-3, 11], "nice": false}, "axis": {"values": [-2, 0, 2, 4, 6, 8, 10], "title": "Sigma band power difference [dB]"}},
     "color": {"field": "s", "type": "nominal", "scale": {"domain": ["Fronto-lateral", "Precental + central gyrus"], "range": ["#333333", "#b0b0b0"]}, "legend": {"title": null}},
     "detail": {"field": "k"},
     "strokeWidth": {"field": "k", "type": "nominal", "scale": {"domain": ["lo", "hi", "m"], "range": [0.6, 0.6, 1.6]}, "legend": null}}}
  ]},
  {"title": "c)", "width": 221, "height": 155, "layer": [
   {"data": {"values": [{"t": 0.13}]}, "mark": {"type": "rule", "color": "#b0b0b0", "strokeWidth": 1}, "encoding": {"x": {"field": "t", "type": "quantitative", "scale": {"domain": [-1, 2], "nice": false}}}},
   {"data": {"name": "c"}, "transform": [{"fold": ["lo", "hi", "m"], "as": ["k", "v"]}], "mark": {"type": "line", "clip": true},
    "encoding": {"x": {"field": "t", "type": "quantitative", "scale": {"domain": [-1, 2], "nice": false}, "axis": {"values": [-1, -0.5, 0, 0.5, 1, 1.5, 2], "title": "Time [s]"}},
     "y": {"field": "v", "type": "quantitative", "scale": {"domain": [-3, 11], "nice": false}, "axis": {"values": [-2, 0, 2, 4, 6, 8, 10], "title": "Sigma band power difference [dB]"}},
     "color": {"field": "s", "type": "nominal", "scale": {"domain": ["Prefrontal", "SMA", "Anterior and middle cingulum"], "range": ["#333333", "#999999", "#cccccc"]}, "legend": {"title": null}},
     "detail": {"field": "k"},
     "strokeWidth": {"field": "k", "type": "nominal", "scale": {"domain": ["lo", "hi", "m"], "range": [0.6, 0.6, 1.6]}, "legend": null}}}
  ]},
  {"title": "d)", "width": 221, "height": 155, "layer": [
   {"data": {"values": [{"t": 0.13}]}, "mark": {"type": "rule", "color": "#b0b0b0", "strokeWidth": 1}, "encoding": {"x": {"field": "t", "type": "quantitative", "scale": {"domain": [-1, 2], "nice": false}}}},
   {"data": {"name": "d"}, "transform": [{"fold": ["lo", "hi", "m"], "as": ["k", "v"]}], "mark": {"type": "line", "clip": true},
    "encoding": {"x": {"field": "t", "type": "quantitative", "scale": {"domain": [-1, 2], "nice": false}, "axis": {"values": [-1, -0.5, 0, 0.5, 1, 1.5, 2], "title": "Time [s]"}},
     "y": {"field": "v", "type": "quantitative", "scale": {"domain": [-3, 11], "nice": false}, "axis": {"values": [-2, 0, 2, 4, 6, 8, 10], "title": "Sigma band power difference [dB]"}},
     "color": {"field": "s", "type": "nominal", "scale": {"domain": ["Parieto-lateral", "Posterior cingulum", "Precuneus"], "range": ["#222222", "#999999", "#cccccc"]}, "legend": {"title": null}},
     "detail": {"field": "k"},
     "strokeWidth": {"field": "k", "type": "nominal", "scale": {"domain": ["lo", "hi", "m"], "range": [0.6, 0.6, 1.6]}, "legend": null}}}
  ]},
  {"title": "e)", "width": 221, "height": 155, "layer": [
   {"data": {"values": [{"t": 0.13}]}, "mark": {"type": "rule", "color": "#b0b0b0", "strokeWidth": 1}, "encoding": {"x": {"field": "t", "type": "quantitative", "scale": {"domain": [-1, 2], "nice": false}}}},
   {"data": {"name": "e"}, "transform": [{"fold": ["lo", "hi", "m"], "as": ["k", "v"]}], "mark": {"type": "line", "clip": true},
    "encoding": {"x": {"field": "t", "type": "quantitative", "scale": {"domain": [-1, 2], "nice": false}, "axis": {"values": [-1, -0.5, 0, 0.5, 1, 1.5, 2], "title": "Time [s]"}},
     "y": {"field": "v", "type": "quantitative", "scale": {"domain": [-3, 11], "nice": false}, "axis": {"values": [-2, 0, 2, 4, 6, 8, 10], "title": "Sigma band power difference [dB]"}},
     "color": {"field": "s", "type": "nominal", "scale": {"domain": ["Insula"], "range": ["#111111"]}, "legend": {"title": null}},
     "detail": {"field": "k"},
     "strokeWidth": {"field": "k", "type": "nominal", "scale": {"domain": ["lo", "hi", "m"], "range": [0.6, 0.6, 1.6]}, "legend": null}}}
  ]},
  {"title": "f)", "width": 221, "height": 155, "layer": [
   {"data": {"values": [{"t": 0.13}]}, "mark": {"type": "rule", "color": "#b0b0b0", "strokeWidth": 1}, "encoding": {"x": {"field": "t", "type": "quantitative", "scale": {"domain": [-1, 2], "nice": false}}}},
   {"data": {"name": "f"}, "transform": [{"fold": ["lo", "hi", "m"], "as": ["k", "v"]}], "mark": {"type": "line", "clip": true},
    "encoding": {"x": {"field": "t", "type": "quantitative", "scale": {"domain": [-1, 2], "nice": false}, "axis": {"values": [-1, -0.5, 0, 0.5, 1, 1.5, 2], "title": "Time [s]"}},
     "y": {"field": "v", "type": "quantitative", "scale": {"domain": [-3, 11], "nice": false}, "axis": {"values": [-2, 0, 2, 4, 6, 8, 10], "title": "Sigma band power difference [dB]"}},
     "color": {"field": "s", "type": "nominal", "scale": {"domain": ["Hippocampus", "Temporo-mesial", "Temporo-lateral"], "range": ["#222222", "#999999", "#cccccc"]}, "legend": {"title": null}},
     "detail": {"field": "k"},
     "strokeWidth": {"field": "k", "type": "nominal", "scale": {"domain": ["lo", "hi", "m"], "range": [0.6, 0.6, 1.6]}, "legend": null}}}
  ]}
]
}
